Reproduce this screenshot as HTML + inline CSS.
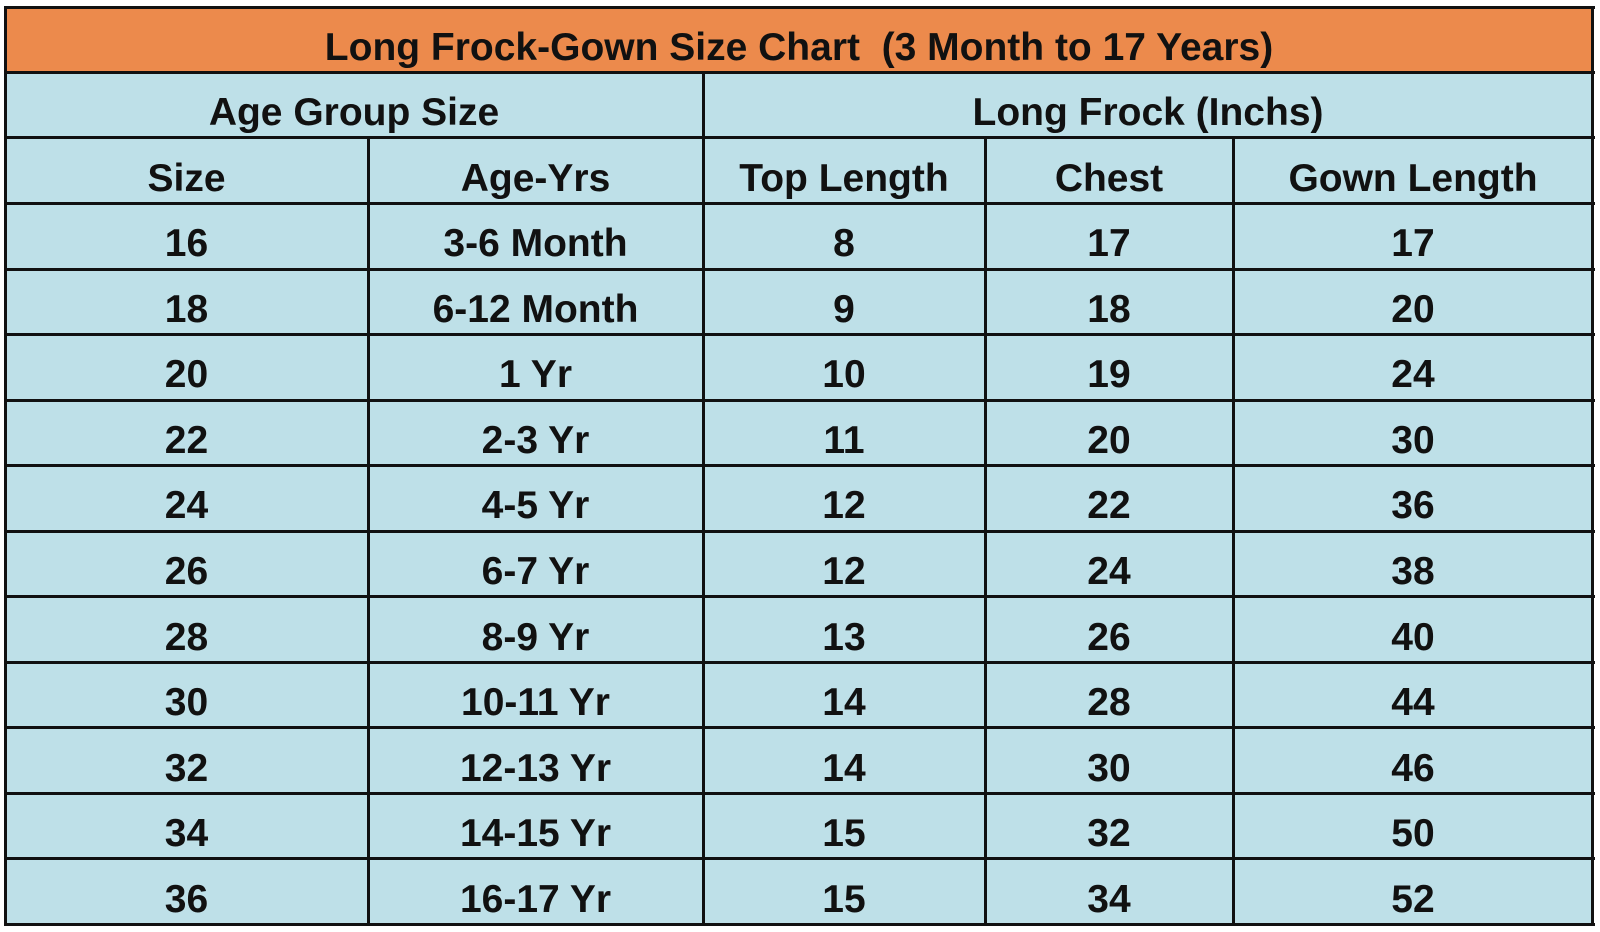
<!DOCTYPE html>
<html><head><style>
body{margin:0;width:1600px;height:932px;background:#fff;position:relative;overflow:hidden;font-family:"Liberation Sans",sans-serif;font-weight:bold;color:#111;}
.c{position:absolute;display:flex;align-items:center;justify-content:center;font-size:39px;padding-top:17px;box-sizing:border-box;white-space:nowrap;}
.h{position:absolute;background:#111;height:3px}
.v{position:absolute;background:#111;width:3px}
</style></head><body>
<div style="position:absolute;left:5px;top:7px;width:1588px;height:65px;background:#EC8A4C"></div>
<div style="position:absolute;left:5px;top:72px;width:1588px;height:852px;background:#BEE0E8"></div>
<div id="g"></div>
<script>
var g=document.getElementById('g'),h='';
function cell(x1,x2,y1,y2,t,fs){h+='<div class="c" style="left:'+x1+'px;width:'+(x2-x1)+'px;top:'+y1+'px;height:'+(y2-y1)+'px;'+(fs?'font-size:'+fs+'px':'')+'">'+t+'</div>';}
var cols=[5,368,703,985,1233,1593];
cell(5,1593,7,72,'Long Frock-Gown Size Chart&nbsp; (3 Month to 17 Years)',39);
cell(5,703,72,137,'Age Group Size');cell(703,1593,72,137,'Long Frock (Inchs)');
var hd=['Size','Age-Yrs','Top Length','Chest','Gown Length'];
for(var i=0;i<5;i++)cell(cols[i],cols[i+1],137,203,hd[i]);
var d=[[16,'3-6 Month',8,17,17],[18,'6-12 Month',9,18,20],[20,'1 Yr',10,19,24],[22,'2-3 Yr',11,20,30],[24,'4-5 Yr',12,22,36],[26,'6-7 Yr',12,24,38],[28,'8-9 Yr',13,26,40],[30,'10-11 Yr',14,28,44],[32,'12-13 Yr',14,30,46],[34,'14-15 Yr',15,32,50],[36,'16-17 Yr',15,34,52]];
var rh=(924-203)/11;
for(var r=0;r<11;r++){var y1=203+r*rh,y2=y1+rh;for(var i=0;i<5;i++)cell(cols[i],cols[i+1],y1,y2,d[r][i]);}
var ys=[7,72,137,203];for(var r=1;r<=11;r++)ys.push(Math.round(203+r*rh));
ys.forEach(function(y){h+='<div class="h" style="left:4px;width:1591px;top:'+(y-1)+'px"></div>';});
h+='<div class="v" style="left:4px;top:6px;height:920px"></div><div class="v" style="left:1591px;top:6px;height:920px"></div>';
h+='<div class="v" style="left:702px;top:71px;height:855px"></div>';
[368,985,1233].forEach(function(x){h+='<div class="v" style="left:'+(x-1)+'px;top:136px;height:790px"></div>';});
g.innerHTML=h;
</script>
</body></html>
